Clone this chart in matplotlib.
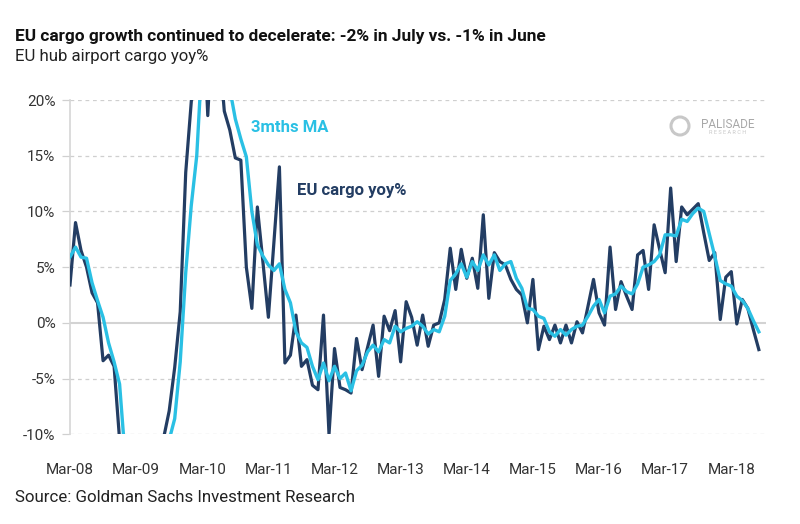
import matplotlib
matplotlib.use("Agg")
import matplotlib.pyplot as plt
import matplotlib.patches as mpatches
import numpy as np

plt.rcParams['font.family'] = ['Roboto', 'DejaVu Sans']

# monthly values, first point = Mar-08
eu_cargo_yoy = [
    3.4, 9.0, 6.5, 5.0, 2.7, 1.8, -3.4, -2.9, -3.9, -10.5,
    -15, -18, -20, -21, -20, -17, -14, -10.3, -7.9, -4.0,
    1.0, 13.5, 19.8, 26, 30, 18.6, 28, 25, 19.0, 17.3,
    14.8, 14.6, 5.0, 1.3, 10.4, 5.5, 0.5, 7.2, 14.0, -3.6,
    -2.9, 0.7, -3.9, -3.3, -5.6, -6.0, 0.7, -10.0, -2.3, -5.8,
    -6.0, -6.3, -1.4, -4.2, -2.2, -0.2, -4.8, 0.6, -0.7, 1.1,
    -3.5, 1.9, 0.5, -2.0, 0.7, -2.1, -0.2, 0.0, 2.1, 6.7,
    3.0, 6.6, 4.0, 5.8, 3.1, 9.7, 2.2, 6.3, 5.5, 5.2,
    3.9, 3.0, 2.5, 0.0, 3.9, -2.4, -0.3, -1.5, -0.2, -1.8,
    -0.2, -1.8, 0.1, -0.9, 1.5, 3.9, 0.9, -0.2, 6.8, 1.2,
    3.7, 2.4, 1.2, 6.1, 6.5, 3.0, 8.8, 6.6, 4.5, 12.1,
    5.5, 10.4, 9.7, 10.2, 10.7, 8.1, 5.6, 6.3, 0.3, 4.1,
    4.6, -0.1, 2.1, 1.3, -0.6, -2.4,
]

ma_3m = [
    5.9, 6.8, 5.9, 5.8, 3.6, 2.0, 0.5, -1.8, -3.5, -5.5,
    -12, -15, -18, -20, -20, -19, -17, -14, -10.5, -8.6,
    -3.5, 4.5, 10.5, 15.0, 24, 26, 25, 24, 23, 21.0,
    18.3, 16.5, 14.9, 10.0, 7.0, 6.0, 5.2, 4.7, 5.3, 3.0,
    1.8, -0.8, -1.8, -2.2, -3.9, -5.1, -3.6, -5.2, -3.9, -5.0,
    -4.5, -6.1, -4.3, -3.8, -2.6, -2.0, -2.6, -1.5, -1.8, -0.3,
    -0.8, -0.5, -0.3, 0.1, -0.3, -1.0, -0.6, -0.8, 0.6, 3.8,
    4.4, 5.3, 4.1, 5.5, 4.7, 6.1, 5.2, 6.1, 4.7, 5.3,
    5.5, 4.0, 3.1, 1.3, 1.2, 0.6, 0.4, -0.8, -1.2, -0.6,
    -1.1, -0.6, -0.3, -0.2, 0.6, 1.5, 2.1, 0.9, 2.4, 2.6,
    3.3, 2.8, 2.6, 3.5, 5.0, 5.2, 5.5, 6.1, 7.9, 7.9,
    7.8, 9.3, 9.1, 9.8, 10.3, 10.0, 8.0, 6.0, 3.8, 3.5,
    3.3, 2.4, 2.0, 1.3, 0.2, -0.8,
]

tick_labels = ['Mar-08', 'Mar-09', 'Mar-10', 'Mar-11', 'Mar-12', 'Mar-13',
               'Mar-14', 'Mar-15', 'Mar-16', 'Mar-17', 'Mar-18']
y_ticks = [-10, -5, 0, 5, 10, 15, 20]

navy = '#233d63'
cyan = '#2ac0e4'
grey_txt = '#333333'

fig = plt.figure(figsize=(8, 5.24), dpi=100)
ax = fig.add_axes([70 / 800, 1 - 434.3 / 524, 696 / 800, 334.3 / 524])

x = np.arange(len(eu_cargo_yoy))
ax.plot(x, eu_cargo_yoy, color=navy, lw=2.3, zorder=3)
ax.plot(np.arange(len(ma_3m)), ma_3m, color=cyan, lw=2.4, zorder=4)

ax.set_ylim(-10, 20)
ax.set_xlim(0, 126.3)

for yv in y_ticks:
    if yv == 0:
        ax.axhline(yv, color='#d3d3d3', lw=1.5, zorder=1)
    else:
        ax.axhline(yv, color='#cfcfcf', lw=0.9, ls=(0, (3, 3)), zorder=1)

ax.set_yticks(y_ticks)
ax.set_yticklabels([f'{v}%' for v in y_ticks], fontsize=11, color=grey_txt)
ax.tick_params(axis='y', length=5.5, width=0.9, color='#d0d0d0', pad=5)

ax.set_xticks(np.arange(0, 121, 12))
ax.set_xticklabels(tick_labels, fontsize=11, color=grey_txt)
ax.tick_params(axis='x', length=0, pad=21)

for s in ['top', 'right', 'bottom']:
    ax.spines[s].set_visible(False)
ax.spines['left'].set_color('#d6d6d6')
ax.spines['left'].set_linewidth(1.2)

# series labels
fig.text(251 / 800, 1 - 128 / 524, '3mths MA', color=cyan, fontsize=12,
         fontweight='bold', va='center')
fig.text(297 / 800, 1 - 190 / 524, 'EU cargo yoy%', color=navy, fontsize=12,
         fontweight='bold', va='center')

# watermark
fig.patches.append(mpatches.Ellipse((680 / 800, 1 - 126 / 524), 18 / 800, 18 / 524,
                                    transform=fig.transFigure, facecolor='none',
                                    edgecolor='#c8c8c8', lw=2.2))
fig.text(728 / 800, 1 - 124 / 524, 'PALISADE', color='#a8a8a8', fontsize=8.5,
         ha='center', va='center')
fig.text(728 / 800, 1 - 132.5 / 524, 'R E S E A R C H', color='#c8c8c8', fontsize=4,
         ha='center', va='center')

fig.text(15 / 800, 1 - 37 / 524,
         'EU cargo growth continued to decelerate: -2% in July vs. -1% in June',
         fontsize=12.4, fontweight='bold', color='#111111', va='center')
fig.text(15 / 800, 1 - 57 / 524, 'EU hub airport cargo yoy%',
         fontsize=12.1, color='#222222', va='center')
fig.text(15 / 800, 1 - 497 / 524, 'Source: Goldman Sachs Investment Research',
         fontsize=12.2, color='#222222', va='center')

fig.savefig('out.png', dpi=100)
